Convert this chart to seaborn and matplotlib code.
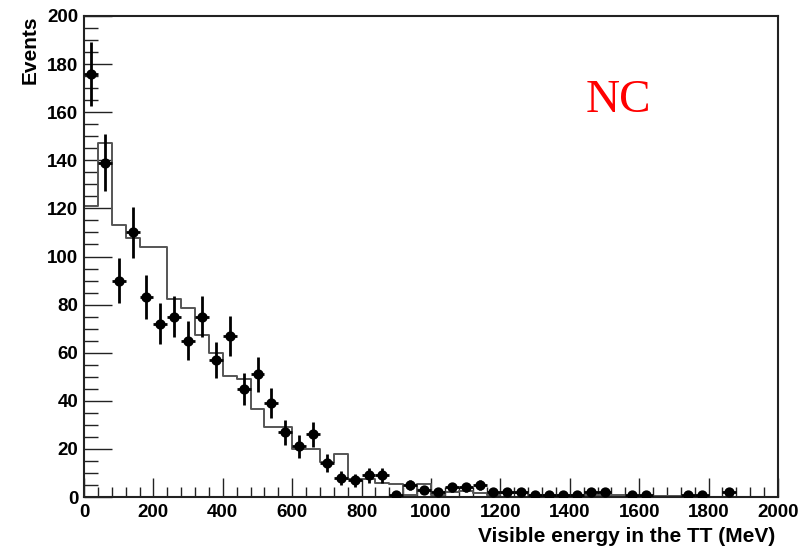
import numpy as np
import pandas as pd
import matplotlib
matplotlib.use("Agg")
import matplotlib.pyplot as plt
import seaborn as sns
from matplotlib.ticker import MultipleLocator

# ---- data ----
bin_width = 40
bin_edges = list(range(0, 2001, bin_width))
bin_centers = [e + bin_width / 2 for e in bin_edges[:-1]]

# Monte Carlo expectation (histogram, one value per 40 MeV bin)
mc_counts = [121, 147, 113, 107.5, 104, 104, 82.5, 78.5, 67.5, 60,
             50.5, 49, 36.5, 29, 29, 20, 20, 14.7, 18, 7.5,
             7.5, 6, 5.5, 1, 5.5, 1, 2, 2.5, 1.5, 1,
             1.5, 1.5, 1, 1, 1, 0.8, 0.8, 1, 1, 0.5,
             0.5, 0.5, 0.3, 0.3, 0.2, 0, 0, 0, 0, 0]

# observed data points (bin centre, events)
data_x = [20, 60, 100, 140, 180, 220, 260, 300, 340, 380,
          420, 460, 500, 540, 580, 620, 660, 700, 740, 780,
          820, 860, 900, 940, 980, 1020, 1060, 1100, 1140, 1180,
          1220, 1260, 1300, 1340, 1380, 1420, 1460, 1500, 1580, 1620,
          1740, 1780, 1860]
data_y = [176, 139, 90, 110, 83, 72, 75, 65, 75, 57,
          67, 45, 51, 39, 27, 21, 26, 14, 8, 7,
          9, 9, 1, 5, 3, 2, 4, 4, 5, 2,
          2, 2, 1, 1, 1, 1, 2, 2, 1, 1,
          1, 1, 2]

x_ticks = [0, 200, 400, 600, 800, 1000, 1200, 1400, 1600, 1800, 2000]
y_ticks = [0, 20, 40, 60, 80, 100, 120, 140, 160, 180, 200]

x_label = "Visible energy in the TT (MeV)"
y_label = "Events"
tag = "NC"

# ---- plot ----
sns.set_theme(style="white")
plt.rcParams["font.family"] = ["Liberation Sans", "DejaVu Sans"]

fig = plt.figure(figsize=(8.07, 5.51), dpi=100)
ax = fig.add_axes([84 / 807, 54 / 551, (778 - 84) / 807, (497 - 16) / 551])

mc_df = pd.DataFrame({"energy": bin_centers, "mc": mc_counts})
sns.histplot(data=mc_df, x="energy", weights="mc", bins=bin_edges,
             element="step", fill=False, color="#555555", linewidth=1.4, ax=ax)

dat = pd.DataFrame({"energy": data_x, "events": data_y})
ax.errorbar(dat["energy"], dat["events"], yerr=np.sqrt(dat["events"]),
            xerr=bin_width / 2, fmt="none", ecolor="black", elinewidth=2.0,
            capsize=0, zorder=3)
sns.scatterplot(data=dat, x="energy", y="events", color="black", s=55,
                marker="o", edgecolor="black", linewidth=0, zorder=4, ax=ax)

ax.set_xlim(0, 2000)
ax.set_ylim(0, 200)
ax.set_xticks(x_ticks)
ax.set_yticks(y_ticks)
ax.xaxis.set_minor_locator(MultipleLocator(40))
ax.yaxis.set_minor_locator(MultipleLocator(5))

ax.tick_params(axis="both", which="both", direction="in", colors="#222222",
               bottom=True, left=True, top=False, right=False,
               labelsize=13.5, labelcolor="black")
ax.tick_params(axis="x", which="major", length=14, width=1.0, pad=5)
ax.tick_params(axis="x", which="minor", length=7, width=1.0)
ax.tick_params(axis="y", which="major", length=20, width=1.0, pad=4)
ax.tick_params(axis="y", which="minor", length=10, width=1.0)
for lab in ax.get_xticklabels() + ax.get_yticklabels():
    lab.set_fontweight("bold")

for s in ax.spines.values():
    s.set_visible(True)
    s.set_color("#222222")
    s.set_linewidth(1.5)

ax.set_xlabel("")
ax.set_ylabel("")
fig.text(775 / 807, 1 - 536 / 551, x_label, ha="right", va="center",
         fontsize=15, fontweight="bold", color="black")
fig.text(30 / 807, 1 - 16 / 551, y_label, ha="center", va="top",
         rotation=90, fontsize=15, fontweight="bold", color="black")

ax.text(1540, 160, tag, color="red", fontsize=34,
        family=["Liberation Serif", "DejaVu Serif"], ha="center", va="baseline")

fig.savefig("out.png", dpi=100)
